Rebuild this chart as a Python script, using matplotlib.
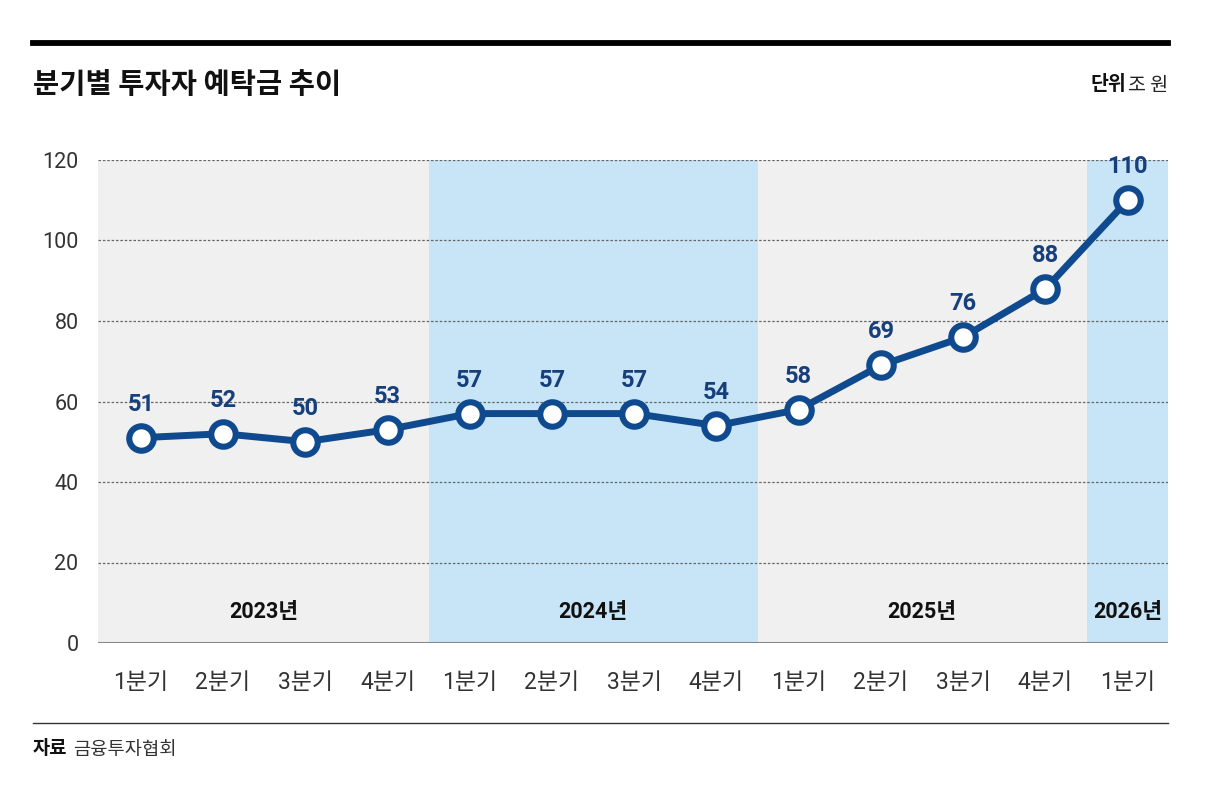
import matplotlib
matplotlib.use("Agg")
import matplotlib.pyplot as plt

plt.rcParams['font.family'] = ['Noto Sans CJK KR', 'DejaVu Sans']
NUM_FONT = ['Roboto', 'Noto Sans CJK KR']

quarters = ['1분기', '2분기', '3분기', '4분기', '1분기', '2분기', '3분기', '4분기',
            '1분기', '2분기', '3분기', '4분기', '1분기']
values = [51, 52, 50, 53, 57, 57, 57, 54, 58, 69, 76, 88, 110]
years = ['2023년', '2024년', '2025년', '2026년']
year_counts = [4, 4, 4, 1]
yticks = [0, 20, 40, 60, 80, 100, 120]

title = '분기별 투자자 예탁금 추이'
unit_bold = '단위'
unit_text = '조 원'
src_bold = '자료'
src_text = '금융투자협회'

band_colors = ['#f0f0f0', '#c7e5f7', '#f0f0f0', '#c7e5f7']
line_color = '#0f4a8f'

fig = plt.figure(figsize=(12.06, 7.91), dpi=100)
fig.patch.set_facecolor('white')
ax = fig.add_axes([98/1206, 1-643/791, (1168-98)/1206, (643-160)/791])
ax.set_facecolor('white')

x = list(range(len(values)))
xmin, xmax = -0.52, len(values) - 0.51
ax.set_xlim(xmin, xmax)
ax.set_ylim(0, 120)

start = xmin
pos = 0
for i, (yr, cnt) in enumerate(zip(years, year_counts)):
    pos += cnt
    end = pos - 0.5 if i < len(years) - 1 else xmax
    ax.axvspan(start, end, ymin=0, ymax=1.005, color=band_colors[i], zorder=0, lw=0)
    ax.text((start + end) / 2, 7.8, yr, ha='center', va='center', fontsize=15.5,
            fontweight='bold', color='#111111', zorder=3, family=NUM_FONT)
    start = end

for yv in yticks[1:]:
    ax.axhline(yv, color='#666666', lw=0.9, ls=(0, (2, 1.5)), zorder=1)
ax.axhline(0, color='#888888', lw=1.5, zorder=2)

ax.plot(x, values, color=line_color, lw=5, zorder=4, solid_joinstyle='round')
ax.scatter(x, values, s=310, facecolor='white', edgecolor=line_color, linewidth=4.4, zorder=5)
for xi, v in zip(x, values):
    ax.annotate(str(v), (xi, v), xytext=(0, 24), textcoords='offset points',
                ha='center', va='center', fontsize=17, fontweight='bold',
                color='#163f7c', zorder=6, family=NUM_FONT)

ax.set_yticks(yticks)
ax.set_yticklabels([str(t) for t in yticks], fontsize=15.5, color='#333333', family=NUM_FONT)
ax.set_xticks(x)
ax.set_xticklabels(quarters, fontsize=16.5, color='#333333', family=NUM_FONT)
ax.tick_params(axis='both', length=0)
ax.tick_params(axis='y', pad=14)
ax.tick_params(axis='x', pad=20)
for s in ax.spines.values():
    s.set_visible(False)

# header and footer
fig.add_artist(plt.Line2D([33/1206, 1168/1206], [1-43/791, 1-43/791], color='black', lw=4.2))
fig.text(33/1206, 1-85/791, title, fontsize=20.5, fontweight='bold', ha='left', va='center', color='#111111')
fig.text(1168/1206, 1-85/791, unit_text, fontsize=14, ha='right', va='center', color='#222222')
fig.text(1126/1206, 1-85/791, unit_bold, fontsize=14, fontweight='bold', ha='right', va='center', color='#111111')
fig.add_artist(plt.Line2D([33/1206, 1168/1206], [1-723/791, 1-723/791], color='#333333', lw=1.0))
fig.text(33/1206, 1-749/791, src_bold, fontsize=13.5, fontweight='bold', ha='left', va='center', color='#111111')
fig.text(73/1206, 1-749/791, src_text, fontsize=13.5, ha='left', va='center', color='#333333')

fig.savefig('out.png', dpi=100, facecolor='white')
